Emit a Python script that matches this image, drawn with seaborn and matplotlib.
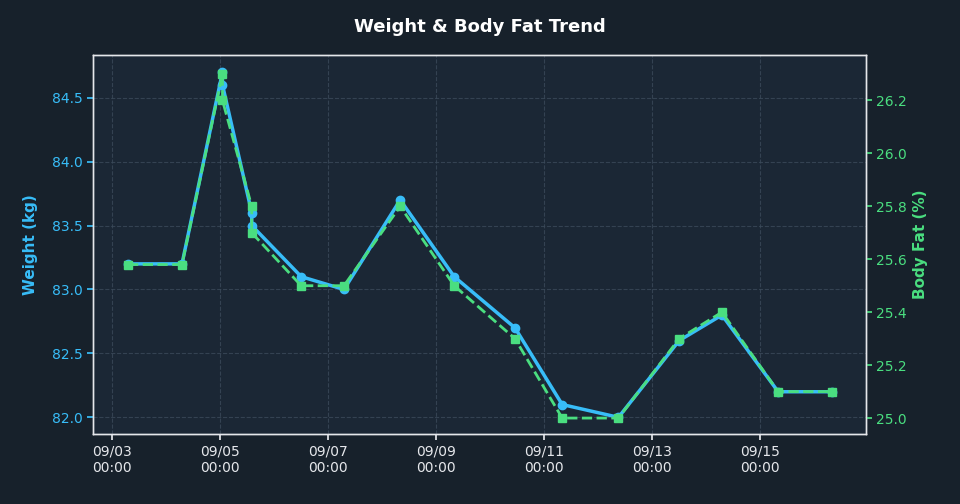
import matplotlib
matplotlib.use("Agg")
import matplotlib.pyplot as plt
import matplotlib.dates as mdates
import pandas as pd
import seaborn as sns

times = [
    "2024-09-03 07:00", "2024-09-04 07:00", "2024-09-05 01:00", "2024-09-05 01:00",
    "2024-09-05 14:00", "2024-09-05 14:00", "2024-09-06 12:00", "2024-09-07 07:00",
    "2024-09-08 08:00", "2024-09-09 08:00", "2024-09-10 11:00", "2024-09-11 08:00",
    "2024-09-12 09:00", "2024-09-13 12:00", "2024-09-14 07:00", "2024-09-15 08:00",
    "2024-09-16 08:00",
]
weight = [83.2, 83.2, 84.7, 84.6, 83.6, 83.5, 83.1, 83.0, 83.7, 83.1, 82.7,
          82.1, 82.0, 82.6, 82.8, 82.2, 82.2]
body_fat = [25.58, 25.58, 26.3, 26.2, 25.8, 25.7, 25.5, 25.5, 25.8, 25.5, 25.3,
            25.0, 25.0, 25.3, 25.4, 25.1, 25.1]

df = pd.DataFrame({"time": pd.to_datetime(times), "weight": weight, "body_fat": body_fat})

BG = "#17212b"
AX_BG = "#1b2735"
BLUE = "#38bdf8"
GREEN = "#4ade80"

sns.set_theme(style="dark")
plt.rcParams["font.family"] = ["DejaVu Sans"]

fig, ax = plt.subplots(figsize=(9.6, 5.04), dpi=100)
fig.patch.set_facecolor(BG)
ax.set_facecolor(AX_BG)
fig.subplots_adjust(left=0.097, right=0.902, top=0.89, bottom=0.139)

ax.plot(df["time"], df["weight"], color=BLUE, lw=2.5, marker="o", ms=6, zorder=3)
ax2 = ax.twinx()
ax2.plot(df["time"], df["body_fat"], color=GREEN, lw=2, ls="--", marker="s", ms=6, zorder=3)

ax.set_ylim(81.87, 84.83)
ax2.set_ylim(24.94, 26.37)
ax.set_yticks([82.0, 82.5, 83.0, 83.5, 84.0, 84.5])
ax2.set_yticks([25.0, 25.2, 25.4, 25.6, 25.8, 26.0, 26.2])

ax.xaxis.set_major_locator(mdates.DayLocator(bymonthday=[3, 5, 7, 9, 11, 13, 15]))
ax.xaxis.set_major_formatter(mdates.DateFormatter("%m/%d\n%H:%M"))
ax.set_xlim(pd.Timestamp("2024-09-02 15:30"), pd.Timestamp("2024-09-16 23:00"))

ax.grid(True, color="#3b4a5a", ls="--", lw=0.8, alpha=0.8)
for a in (ax, ax2):
    for s in a.spines.values():
        s.set_color("#e5e7eb")
        s.set_linewidth(1)
ax.tick_params(axis="y", colors=BLUE, labelsize=10, length=4, left=True)
ax.tick_params(axis="x", colors="#e5e7eb", labelsize=10, length=4, bottom=True)
ax2.tick_params(axis="y", colors=GREEN, labelsize=10, length=4, right=True)
ax.set_ylabel("Weight (kg)", color=BLUE, fontsize=11, fontweight="bold", labelpad=10)
ax2.set_ylabel("Body Fat (%)", color=GREEN, fontsize=11, fontweight="bold")
ax.set_xlabel("")
fig.suptitle("Weight & Body Fat Trend", color="white", fontsize=13, fontweight="bold", y=0.965)

fig.savefig("out.png", facecolor=BG)
